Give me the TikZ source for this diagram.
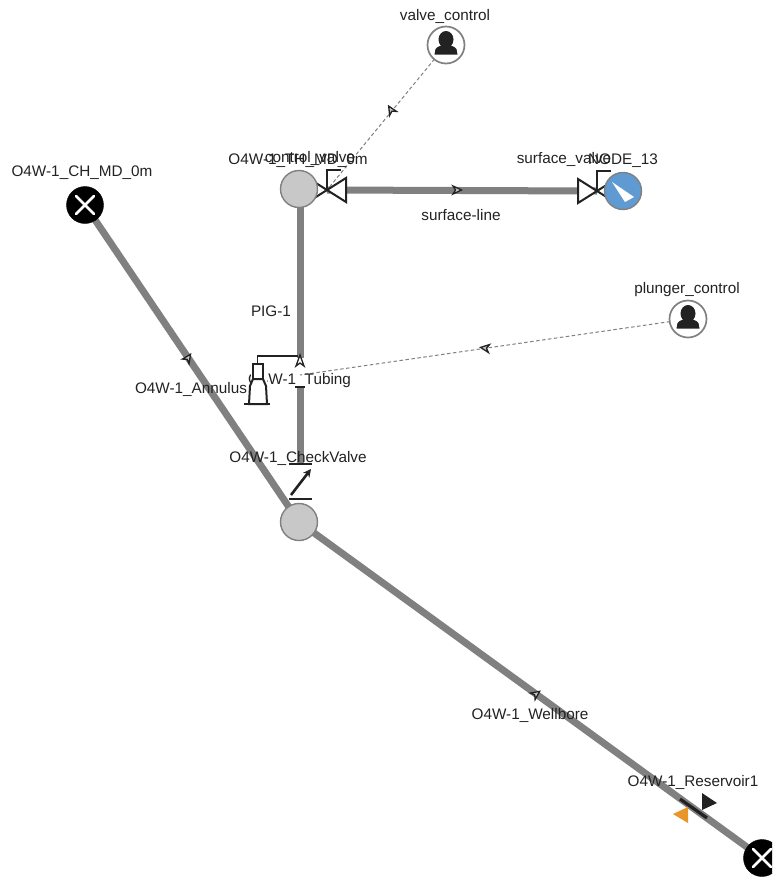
\documentclass[tikz,border=0pt]{standalone}
\usepackage{fontspec}
\usetikzlibrary{arrows.meta}
\setmainfont{Liberation Sans}
\definecolor{pipe}{HTML}{808080}
\definecolor{junc}{HTML}{C8C8C8}
\definecolor{ink}{HTML}{222222}
\definecolor{blue13}{HTML}{5F9BD2}
\definecolor{orng}{HTML}{E8952A}
\tikzset{
  x=1pt,y=-1pt,
  lbl/.style={font=\fontsize{15.3}{17}\selectfont,text=ink,inner sep=0,anchor=center},
  pipeline/.style={draw=pipe,line width=7pt},
  ctrl/.style={draw=gray,line width=1pt,dash pattern=on 3.5pt off 2.5pt},
  junction/.style={circle,draw=pipe,line width=1.4pt,fill=junc,minimum size=37pt,inner sep=0},
  bound/.style={circle,fill=black,draw=black,minimum size=37pt,inner sep=0},
  person/.style={circle,draw=pipe,line width=1.7pt,fill=white,minimum size=37pt,inner sep=0},
  gauge/.style={circle,draw=pipe,line width=1.4pt,fill=blue13,minimum size=37pt,inner sep=0},
  sym/.style={draw=ink,line width=2pt,line join=miter},
  flowmark/.pic={\draw[ink,line width=1.3pt,fill=junc] (4.5,0) -- (-4,-4) -- (-1.5,0) -- (-4,4) -- cycle;},
  valvepic/.pic={
    \draw[sym,fill=white] (-19,-12) -- (0,0) -- (-19,12) -- cycle;
    \draw[sym,fill=white] (19,-12) -- (0,0) -- (19,12) -- cycle;
    \draw[sym] (0,0) -- (0,-20) -- (14,-20);
  },
  xmark/.pic={\draw[white,line width=2.6pt,line cap=round] (-9,-9) -- (9,9) (-9,9) -- (9,-9);},
  personicon/.pic={
    \fill[ink] (0,-5.5) ellipse (7.5 and 8.5);
    \fill[ink] (-11.5,9.5) -- (-10.5,4) .. controls (-8,1) and (-5,1) .. (-3,0) -- (3,0) .. controls (5,1) and (8,1) .. (10.5,4) -- (11.5,9.5) -- cycle;
  }
}
\begin{document}
\begin{tikzpicture}
\useasboundingbox (0,0) rectangle (772,879);
\clip (0,0) rectangle (772,879);
\fill[white] (0,0) rectangle (772,879);
% anchors
\coordinate (cv) at (327,190);
\coordinate (sv) at (597,191);
\coordinate (plA) at (300,358);
\coordinate (plB) at (300,387);
\coordinate (ckT) at (300,464);
\coordinate (ptgt) at (300,375);
\coordinate (thb) at (300,189);
\coordinate (mk1) at (391,110);
\coordinate (mk2) at (485,348);
\coordinate (mk3) at (188,358);
\coordinate (mk4) at (536,694);
\coordinate (mk5) at (457,190);
\coordinate (chc) at (85,205);
\coordinate (jnc) at (299,522);
\coordinate (resc) at (762,858);
\coordinate (vcc) at (446,45);
\coordinate (pcc) at (688,319);
% pipes
\draw[pipeline] (chc) -- (jnc);
\draw[pipeline] (jnc) -- (resc);
\draw[pipeline] (thb) -- (plA);
\draw[pipeline] (plB) -- (ckT);
\draw[pipeline] (cv) -- (sv);
% control lines
\draw[ctrl] (vcc) -- (cv);
\draw[ctrl] (pcc) -- (ptgt);
\pic[rotate=121] at (mk1) {flowmark};
\pic[rotate=172] at (mk2) {flowmark};
\pic[rotate=56] at (mk3) {flowmark};
\pic[rotate=36] at (mk4) {flowmark};
\pic at (mk5) {flowmark};
% nodes
\node[bound] (ch) at (chc) {};
\node[bound] (res) at (resc) {};
\node[person] (vc) at (vcc) {};
\node[person] (pc) at (pcc) {};
\pic at (ch) {xmark};
\pic at (res) {xmark};
\pic at (vc) {personicon};
\pic at (pc) {personicon};
% labels
\node[lbl] (lvc) at (445,16) {valve\_control};
\node[lbl] (lch) at (82,173) {O4W-1\_CH\_MD\_0m};
\node[lbl] (lth) at (298,161) {O4W-1\_TH\_MD\_0m};
\node[lbl] (lcv) at (310,158) {control\_valve};
\node[lbl] (lsv) at (564,159) {surface\_valve};
\node[lbl] (ln13) at (623,161) {NODE\_13};
\node[lbl] (lsl) at (461,215) {surface-line};
\node[lbl] (lpg) at (271,311) {PIG-1};
\node[lbl] (lpc) at (687,290) {plunger\_control};
\node[lbl] (lan) at (191,389) {O4W-1\_Annulus};
\node[lbl] (ltb) at (299.5,381) {O4W-1\_Tubing};
\node[lbl] (lck) at (298,458) {O4W-1\_CheckValve};
\node[lbl] (lwb) at (530,715) {O4W-1\_Wellbore};
\node[lbl] (lrs) at (693,782) {O4W-1\_Reservoir1};
% valves
\pic at (cv) {valvepic};
\pic at (sv) {valvepic};
\node[gauge] (n13) at (623,191) {};
\fill[white] (612,182) -- (634,197) -- (625,202) -- cycle;
\node[junction] (th) at (299,189) {};
\node[junction] (jn) at (jnc) {};
% plunger
\fill[white] (251,364) rectangle (267,404);
\draw[sym,fill=white] (249,404) -- (250,386) -- (253,379) -- (263,379) -- (266,386) -- (267,404) -- cycle;
\draw[sym,fill=white] (253,364) rectangle (263,379);
\draw[sym,line width=1.7pt] (257.5,364) -- (257.5,356) -- (298,356);
\draw[sym,line width=2.6pt] (244,404) -- (270,404);
\draw[ink,line width=1.3pt,fill=white] (300,355) -- (304,366) -- (300,363) -- (296,366) -- cycle;
\draw[ink,line width=2.6pt] (295,387) -- (305,387);
% check valve
\draw[ink,line width=2.4pt] (289,464) -- (312,464);
\draw[ink,line width=2.4pt] (289,499) -- (312,499);
\draw[ink,line width=2.6pt,-{Stealth[length=8pt,width=8pt,open]}] (291,495) -- (311,469);
% reservoir
\draw[ink,line width=3.2pt] (680,799) -- (707,818);
\fill[ink] (702,793) -- (717,803) -- (702,810) -- cycle;
\fill[orng] (688,807) -- (673,814) -- (688,823) -- cycle;
\end{tikzpicture}
\end{document}
